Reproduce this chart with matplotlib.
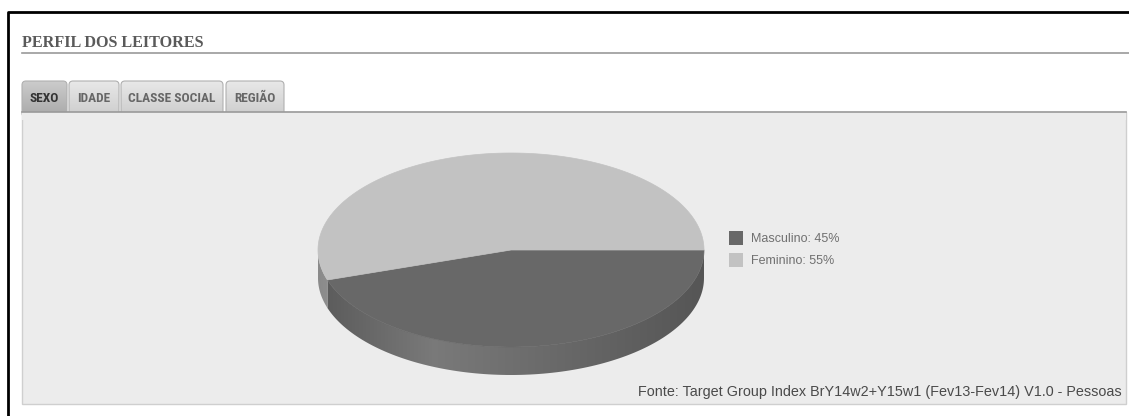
import numpy as np
import matplotlib
matplotlib.use("Agg")
import matplotlib.pyplot as plt
from matplotlib.patches import Polygon, Rectangle, FancyBboxPatch

# perfil dos leitores por sexo (%)
sexo_labels = ["Masculino", "Feminino"]
sexo_values = [45, 55]
tab_labels = ["SEXO", "IDADE", "CLASSE SOCIAL", "REGIÃO"]
titulo = "PERFIL DOS LEITORES"
fonte = "Fonte: Target Group Index BrY14w2+Y15w1 (Fev13-Fev14) V1.0 - Pessoas"

top_colors = ["#686868", "#c2c2c2"]
side_colors = ["#5a5a5a", "#8a8a8a"]

W, H = 1129, 416
fig = plt.figure(figsize=(W / 100, H / 100), dpi=100)
ax = fig.add_axes([0, 0, 1, 1])


def hex_rgb(c):
  return np.array(matplotlib.colors.to_rgb(c))


def gradient_patch(patch, extent, img, z):
  """ pinta um gradiente recortado pelo patch """
  ax.add_patch(patch)
  im = ax.imshow(img, extent=extent, origin="upper", aspect="auto",
                 interpolation="bilinear", zorder=z)
  im.set_clip_path(patch)


# moldura da pagina
ax.plot([8, 8, W], [H, 12, 12], color="black", lw=2, solid_capstyle="butt", zorder=1)

# titulo
ax.text(22, 43, titulo, fontsize=11.6, fontweight="bold", color="#5a5a5a",
        family="Liberation Serif", va="center", ha="left")
ax.plot([22, W], [53, 53], color="#9a9a9a", lw=1.2, zorder=1)

# painel cinza
ax.add_patch(Rectangle((22, 112), 1104, 292, fc="#ececec", ec="#cfcfcf", lw=1, zorder=1))

# abas
tab_x = [(22, 67), (69, 119), (121, 223), (226, 284)]
for k, (lab, (x0, x1)) in enumerate(zip(tab_labels, tab_x)):
  if k == 0:
    c_top, c_bot, tc = 0.80, 0.66, "#333333"
  else:
    c_top, c_bot, tc = 0.91, 0.80, "#666666"
  tab = FancyBboxPatch((x0, 81), x1 - x0, 36, boxstyle="round,pad=0,rounding_size=4",
                       fc="none", ec="#b0b0b0", lw=0.8, zorder=2)
  g = np.linspace(c_top, c_bot, 40)[:, None, None] * np.ones((1, 1, 3))
  gradient_patch(tab, (x0, x1, 117, 81), g, 1.5)
  tab.set_zorder(2)
  ax.text((x0 + x1) / 2, 98.5, lab, fontsize=9.6, fontweight="bold", color=tc,
          family=["Roboto Condensed", "Liberation Sans"], ha="center", va="center",
          zorder=3)
ax.add_patch(Rectangle((22, 112), 1104, 8, fc="#ececec", ec="none", zorder=2.5))
ax.plot([22, 1126], [112, 112], color="#9a9a9a", lw=1.2, zorder=2.6)

# pizza 3d
cx, cy, rx, ry, depth = 511, 250, 193, 97, 28
fracs = np.array(sexo_values, dtype=float) / np.sum(sexo_values)
edges = np.concatenate([[0], np.cumsum(fracs)]) * 2 * np.pi

xs = np.linspace(0, 1, 300)
shade = np.interp(xs, [0, 0.3, 1], [1.0, 1.35, 0.95])

for i in range(len(sexo_values)):
  a, b = edges[i], edges[i + 1]
  a2, b2 = max(a, 0), min(b, np.pi)
  if b2 <= a2:
    continue
  t = np.linspace(a2, b2, 120)
  top = np.c_[cx + rx * np.cos(t), cy + ry * np.sin(t)]
  bot = top[::-1] + [0, depth]
  side = Polygon(np.r_[top, bot], closed=True, fc="none", ec="none", zorder=2)
  img = np.clip(hex_rgb(side_colors[i])[None, None, :] * shade[None, :, None], 0, 1)
  gradient_patch(side, (cx - rx, cx + rx, cy + ry + depth, cy), img, 2)

for i in range(len(sexo_values)):
  t = np.linspace(edges[i], edges[i + 1], 200)
  pts = np.r_[[[cx, cy]], np.c_[cx + rx * np.cos(t), cy + ry * np.sin(t)]]
  ax.add_patch(Polygon(pts, closed=True, fc=top_colors[i], ec=top_colors[i],
                       lw=0.5, zorder=3))

# legenda
for i, (lab, v) in enumerate(zip(sexo_labels, sexo_values)):
  y = 231 + 22 * i
  ax.add_patch(Rectangle((729, y), 14, 14, fc=top_colors[i], ec="none", zorder=3))
  ax.text(751, y + 7.5, f"{lab}: {v}%", fontsize=9, color="#707070",
          family="Liberation Sans", va="center", ha="left", zorder=3)

# fonte
ax.text(1122, 392, fonte, fontsize=10.4, color="#4a4a4a", family="Liberation Sans",
        ha="right", va="center", zorder=3)

ax.set_xlim(0, W)
ax.set_ylim(H, 0)
ax.axis("off")
fig.savefig("out.png", dpi=100, facecolor="white")
